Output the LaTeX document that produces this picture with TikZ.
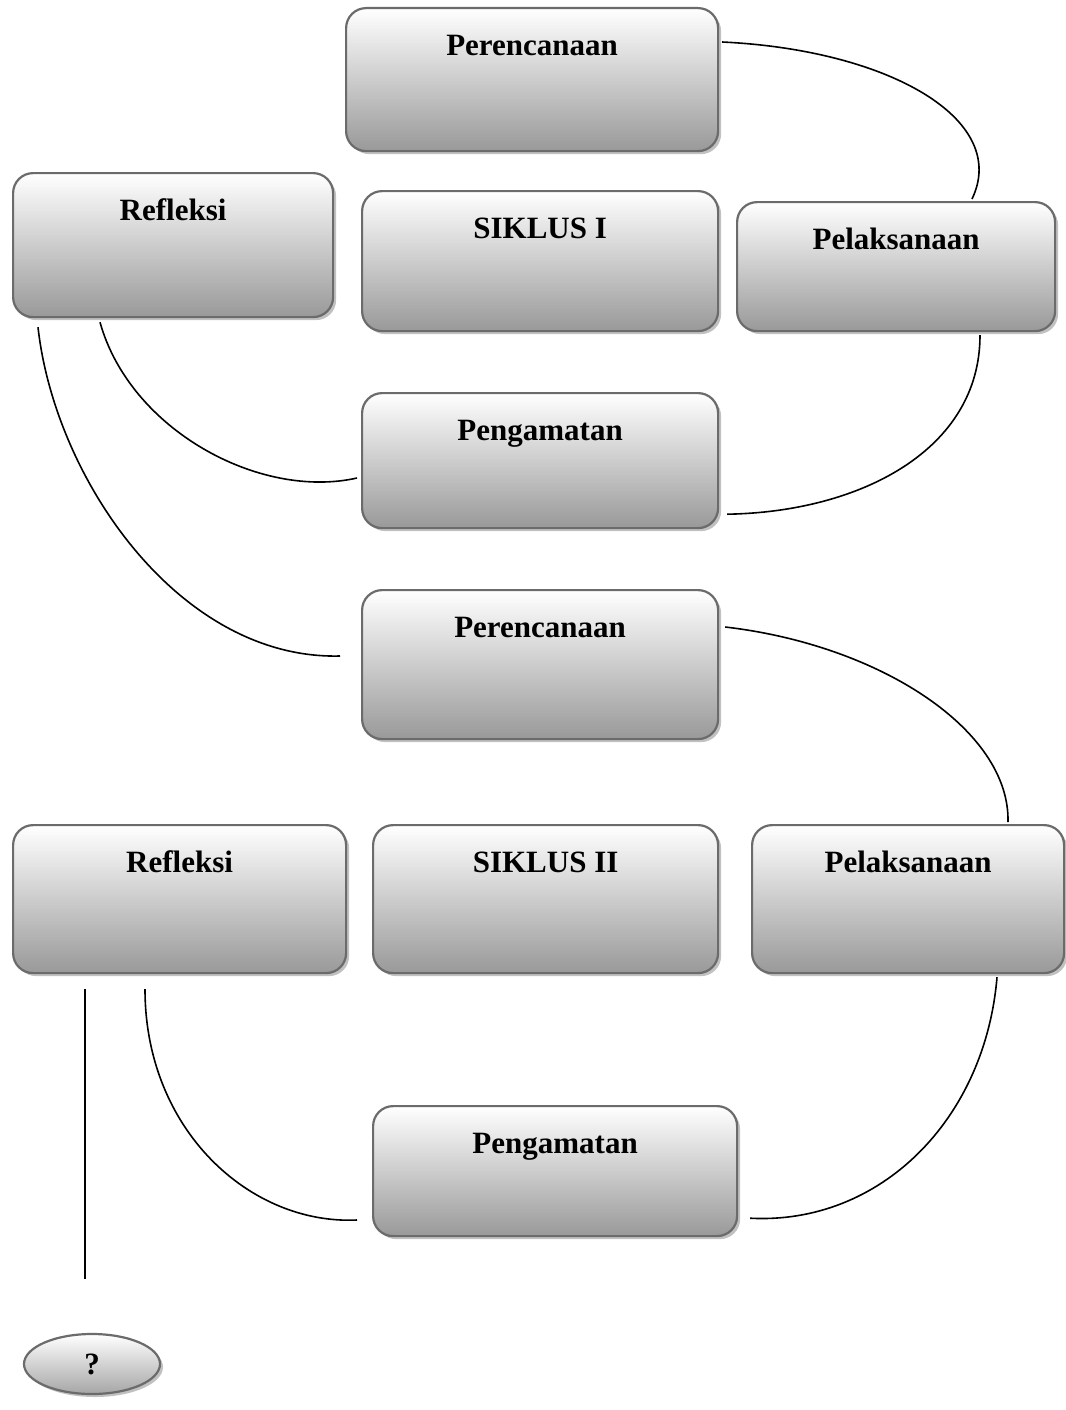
\documentclass[tikz,border=0pt]{standalone}
\usepackage{fontspec}
\setmainfont{Liberation Serif}
\usetikzlibrary{shadows,shapes.geometric,calc}

\tikzset{
  kotak/.style={draw=black!58, line width=2.2pt, rounded corners=20pt,
    top color=white, bottom color=black!40,
    drop shadow={shadow xshift=3pt, shadow yshift=-3pt, fill=black!35, opacity=.7},
    inner xsep=0pt, inner ysep=0pt, text height=47pt, anchor=north west,
    font=\fontsize{31}{36}\selectfont\bfseries},
  bulat/.style={ellipse, draw=black!58, line width=2.2pt,
    top color=white, bottom color=black!35,
    drop shadow={shadow xshift=3pt, shadow yshift=-3pt, fill=black!35, opacity=.7},
    inner sep=0pt, minimum width=136pt, minimum height=60pt,
    font=\fontsize{31}{36}\selectfont\bfseries},
  garis/.style={black, line width=1.6pt}
}

\begin{document}
\begin{tikzpicture}[x=1pt,y=1pt]
        \useasboundingbox (0,0) rectangle (1065,-1410) ;
        % siklus I
        \node[kotak, minimum width=372pt, text depth=96pt] (pr1) at (345,-7) {Perencanaan} ;
        \node[kotak, minimum width=320pt, text depth=97pt] (rf1) at (12,-172) {Refleksi} ;
        \node[kotak, minimum width=356pt, text depth=93pt] (sk1) at (361,-190) {SIKLUS I} ;
        \node[kotak, minimum width=318pt, text depth=82pt] (pl1) at (736,-201) {Pelaksanaan} ;
        \node[kotak, minimum width=356pt, text depth=88pt] (pg1) at (361,-392) {Pengamatan} ;
        % siklus II
        \node[kotak, minimum width=356pt, text depth=102pt] (pr2) at (361,-589) {Perencanaan} ;
        \node[kotak, minimum width=333pt, text depth=101pt] (rf2) at (12,-824) {Refleksi} ;
        \node[kotak, minimum width=345pt, text depth=101pt] (sk2) at (372,-824) {SIKLUS II} ;
        \node[kotak, minimum width=312pt, text depth=101pt] (pl2) at (751,-824) {Pelaksanaan} ;
        \node[kotak, minimum width=364pt, text depth=83pt] (pg2) at (372,-1105) {Pengamatan} ;
        \node[bulat] (tanya) at (92,-1364) {?} ;
        \coordinate (ujung) at (85,-1279) ;
        % garis siklus I
        \draw[garis] ($(pr1.north east)+(3,-35)$) .. controls (890,-50) and (1010,-120) .. ($(pl1.north west)+(236,2)$) ;
        \draw[garis] ($(pl1.south west)+(244,-3)$) .. controls (980,-450) and (860,-512) .. ($(pg1.south east)+(8,15)$) ;
        \draw[garis] ($(rf1.south west)+(88,-4)$) .. controls (130,-430) and (260,-500) .. ($(pg1.north west)+(-4,-86)$) ;
        \draw[garis] ($(rf1.south west)+(26,-9)$) .. controls (55,-480) and (180,-660) .. ($(pr2.north west)+(-21,-67)$) ;
        % garis siklus II
        \draw[garis] ($(pr2.north east)+(6,-38)$) .. controls (880,-645) and (1010,-730) .. ($(pl2.north west)+(257,2)$) ;
        \draw[garis] ($(pl2.south west)+(246,-3)$) .. controls (985,-1120) and (880,-1225) .. ($(pg2.south east)+(12,19)$) ;
        \draw[garis] ($(rf2.south west)+(133,-15)$) .. controls (145,-1130) and (250,-1225) .. ($(pg2.north west)+(-15,-115)$) ;
        \draw[garis] ($(rf2.south west)+(73,-15)$) -- (ujung) ;
\end{tikzpicture}
\end{document}
